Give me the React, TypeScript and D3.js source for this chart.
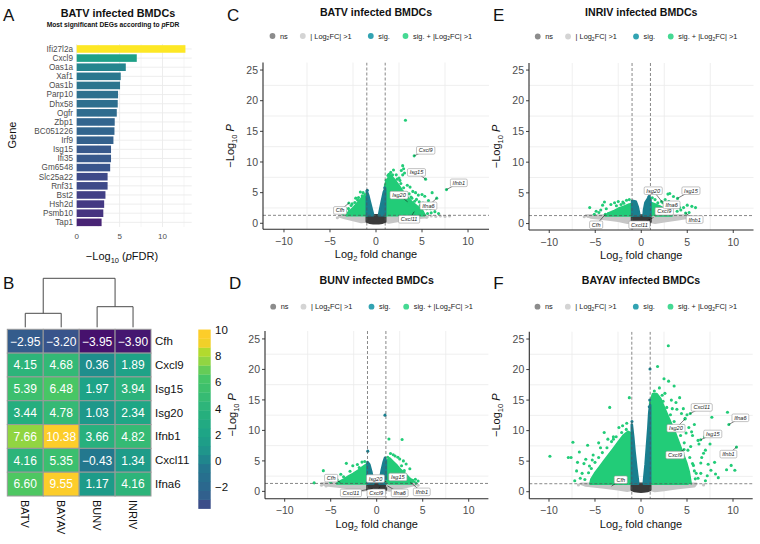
import React from 'react';
import * as d3 from 'd3';

type Pt = [number, number];
type Cat = 'fc' | 'ns' | 'sig' | 'sigfc';

const FONT = '"Liberation Sans", Arial, Helvetica, sans-serif';

// ---------- Panel A data ----------
const deGenes = ['Ifi27l2a', 'Cxcl9', 'Oas1a', 'Xaf1', 'Oas1b', 'Parp10', 'Dhx58', 'Ogfr', 'Zbp1', 'BC051226', 'Irf9', 'Isg15', 'Ifi35', 'Gm6548', 'Slc25a22', 'Rnf31', 'Bst2', 'Hsh2d', 'Psmb10', 'Tap1'];
const deNegLogFdr = [12.67, 7.0, 5.72, 5.13, 5.05, 4.82, 4.78, 4.67, 4.43, 4.4, 4.28, 4.0, 4.0, 3.9, 3.6, 3.6, 3.35, 3.2, 3.1, 2.9];
const barTicks = [0, 5, 10];
const barGrid = [0, 2.5, 5, 7.5, 10, 12.5];

// ---------- Panel B data ----------
const heatGenes = ['Cfh', 'Cxcl9', 'Isg15', 'Isg20', 'Ifnb1', 'Cxcl11', 'Ifna6'];
const heatViruses = ['BATV', 'BAYAV', 'BUNV', 'INRIV'];
const log2fcBATV = [-2.95, 4.15, 5.39, 3.44, 7.66, 4.16, 6.6];
const log2fcBAYAV = [-3.2, 4.68, 6.48, 4.78, 10.38, 5.35, 9.55];
const log2fcBUNV = [-3.95, 0.36, 1.97, 1.03, 3.66, -0.43, 1.17];
const log2fcINRIV = [-3.9, 1.89, 3.94, 2.34, 4.82, 1.34, 4.16];
const colorbarTicks = [-2, 0, 2, 4, 6, 8, 10];
const dendroHeights = [14, 20.6, 49]; // BATV-BAYAV, BUNV-INRIV, root

// ---------- Volcano data ----------
const volcanoXTicks = [-10, -5, 0, 5, 10];
const volcanoYTicks = [0, 5, 10, 15, 20, 25];
const volcanoXMinor = [-7.5, -2.5, 2.5, 7.5];
const volcanoYMinor = [2.5, 7.5, 12.5, 17.5, 22.5];
const fcCutoff = 1;
const pCutoff = -Math.log10(0.05);

// -log10 P of the labelled genes (heatGenes order)
const batvNegLogP = [3.3, 11.0, 7.2, 3.5, 5.5, 1.9, 4.1];
const bunvNegLogP = [1.5, 0.8, 1.7, 1.6, 1.5, 0.5, 0.9];
const inrivNegLogP = [1.5, 2.3, 4.1, 3.4, 1.7, 1.0, 2.6];
const bayavNegLogP = [0.9, 6.9, 8.5, 11.9, 7.3, 12.8, 11.0];

// dense point clouds (outline of each cloud, in log2FC / -log10P units)
const nsCore: Pt[] = [[-1, 1.3], [1, 1.3], [1, 0.3], [0.7, 0.1], [0.3, 0.02], [0, 0], [-0.3, 0.02], [-0.7, 0.1], [-1, 0.3]];

const batvClouds: { cat: Cat; pts: Pt[] }[] = [
  { cat: 'fc', pts: [[-1, 0.3], [-1, 1.3], [-3.3, 1.3], [-4.0, 1.15], [-3.4, 0.85], [-2.5, 0.55], [-1.6, 0.2]] },
  { cat: 'fc', pts: [[1, 0.3], [1, 1.3], [5.2, 1.3], [5.6, 1.05], [4.5, 0.85], [3, 0.55], [2, 0.3], [1.4, 0.12]] },
  { cat: 'ns', pts: nsCore },
  { cat: 'sigfc', pts: [[-1, 1.3], [-1, 4.7], [-1.3, 4.4], [-1.6, 4.0], [-2.0, 3.3], [-2.4, 2.6], [-2.8, 2.0], [-3.1, 1.6], [-3.2, 1.3]] },
  { cat: 'sigfc', pts: [[1, 1.3], [1, 6.3], [1.3, 7.3], [1.6, 7.8], [2.0, 7.1], [2.4, 6.3], [2.8, 5.4], [3.2, 4.6], [3.6, 3.9], [4.0, 3.3], [4.5, 2.7], [5.0, 2.1], [5.3, 1.3]] },
  { cat: 'sig', pts: [[-1, 1.3], [-1, 5.2], [-0.85, 4.6], [-0.65, 3.4], [-0.45, 2.2], [-0.3, 1.3]] },
  { cat: 'sig', pts: [[1, 1.3], [1, 5.6], [0.85, 5.1], [0.65, 3.7], [0.45, 2.3], [0.32, 1.3]] },
];
const batvScatter: Pt[] = [
  [3.2, 16.8], [2.9, 9.4], [3.0, 8.9], [2.75, 8.6], [3.1, 8.2], [2.9, 7.9], [1.9, 8.7], [1.6, 8.3], [2.2, 7.9], [2.5, 7.4], [2.6, 7.0], [3.4, 6.2], [3.7, 5.9], [4.0, 5.2], [4.3, 5.0], [4.6, 4.6], [5.0, 4.7], [5.3, 4.4], [5.7, 3.7], [6.1, 5.0], [6.2, 3.2], [5.1, 3.3], [4.8, 2.9], [5.9, 2.4], [6.4, 1.9], [6.8, 1.6], [4.4, 3.9], [3.8, 4.3], [1.3, 7.8], [1.1, 7.0],
  [1.4, 8.0], [1.8, 7.9], [2.3, 7.2], [2.7, 6.5], [3.0, 5.8], [3.3, 5.0], [3.6, 4.8], [3.9, 4.1], [4.2, 3.6], [4.7, 3.5], [5.2, 2.8], [5.5, 2.4], [6.0, 1.7], [4.9, 2.2], [3.5, 3.0], [5.6, 1.6],
  [-1.7, 5.1], [-1.4, 5.0], [-1.2, 4.7], [-2.2, 4.1], [-2.6, 3.2], [-3.0, 2.4], [-3.3, 1.9], [-3.6, 1.5], [-2.0, 3.8],
  [-1.5, 4.5], [-1.9, 4.2], [-2.3, 3.4], [-2.7, 2.9], [-2.9, 2.0], [-3.5, 1.8], [-3.1, 1.4],
  [6.0, 1.2], [6.5, 1.1], [7.0, 1.2], [7.5, 1.1], [8.0, 1.2], [-3.8, 1.1], [-4.2, 0.9], [5.5, 1.0],
  [-0.95, 5.4], [0.95, 5.8],
];

const bunvClouds: { cat: Cat; pts: Pt[] }[] = [
  { cat: 'fc', pts: [[-1, 0.3], [-1, 1.3], [-4, 1.3], [-6, 1.3], [-5.5, 1.0], [-4, 0.75], [-2.5, 0.45], [-1.5, 0.15]] },
  { cat: 'fc', pts: [[1, 0.3], [1, 1.3], [3.6, 1.3], [4.2, 1.1], [3, 0.7], [2, 0.4], [1.4, 0.15]] },
  { cat: 'ns', pts: nsCore },
  { cat: 'sigfc', pts: [[-1, 1.3], [-1, 4.5], [-1.5, 4.0], [-2.0, 3.4], [-2.5, 2.9], [-3.0, 2.5], [-3.5, 2.0], [-4.0, 1.6], [-4.3, 1.3]] },
  { cat: 'sigfc', pts: [[1, 1.3], [1, 4.8], [1.4, 5.4], [1.8, 4.8], [2.2, 4.2], [2.6, 3.5], [3.0, 3.0], [3.5, 2.2], [4.0, 1.6], [4.3, 1.3]] },
  { cat: 'sig', pts: [[-1, 1.3], [-1, 4.8], [-0.8, 4.4], [-0.6, 3.3], [-0.45, 2.2], [-0.35, 1.3]] },
  { cat: 'sig', pts: [[0.3, 1.3], [0.4, 2.2], [0.55, 3.5], [0.75, 4.8], [0.9, 5.5], [1, 5.0], [1, 1.3]] },
];
const bunvScatter: Pt[] = [
  [0.9, 12.5], [-0.97, 6.6],
  [1.33, 8.6], [2.76, 8.5], [1.5, 6.2], [2.0, 5.8], [2.3, 5.6], [2.5, 5.3], [2.9, 5.0], [1.8, 6.0], [3.2, 4.5], [3.6, 3.7], [4.2, 2.0], [3.9, 1.8], [4.5, 1.7], [2.7, 4.2], [3.0, 3.4], [1.2, 5.6],
  [-6.8, 1.4], [-5.8, 3.4], [-3.3, 4.6], [-1.6, 4.8], [-2.6, 4.2], [-4.6, 2.3], [-5.2, 1.9], [-3.9, 2.8], [-4.3, 1.9], [-5.0, 1.5], [-2.1, 4.4], [-1.3, 4.9],
  [-2.9, 3.3], [-3.6, 2.4], [-4.8, 1.8], [-1.9, 3.9],
  [-6.0, 1.0], [-5.5, 0.9], [4.5, 1.0], [4.0, 1.2],
];

const inrivClouds: { cat: Cat; pts: Pt[] }[] = [
  { cat: 'fc', pts: [[-1, 0.3], [-1, 1.3], [-4, 1.3], [-6, 1.3], [-5.5, 1.0], [-4, 0.75], [-2.5, 0.45], [-1.5, 0.15]] },
  { cat: 'fc', pts: [[1, 0.3], [1, 1.3], [5, 1.3], [5.2, 1.0], [4, 0.7], [2.5, 0.4], [1.5, 0.15]] },
  { cat: 'ns', pts: nsCore },
  { cat: 'sigfc', pts: [[-1, 1.3], [-1, 3.2], [-1.3, 3.1], [-1.8, 2.8], [-2.5, 2.4], [-3.0, 2.0], [-3.5, 1.7], [-3.9, 1.3]] },
  { cat: 'sigfc', pts: [[1, 1.3], [1, 3.4], [1.5, 3.1], [2.0, 2.8], [2.5, 2.4], [3.0, 2.0], [3.3, 1.3]] },
  { cat: 'sig', pts: [[-1, 1.3], [-1, 3.7], [-0.6, 3.6], [-0.4, 2.8], [-0.25, 1.8], [-0.2, 1.3]] },
  { cat: 'sig', pts: [[0.25, 1.3], [0.3, 2.2], [0.45, 3.4], [0.7, 4.0], [0.85, 4.4], [1, 4.0], [1, 1.3]] },
];
const inrivScatter: Pt[] = [
  [-5.6, 2.6], [-4.9, 2.0], [-4.6, 1.8], [-4.2, 3.0], [-4.0, 3.5], [-3.8, 2.4], [-3.3, 3.1], [-2.9, 3.4], [-2.5, 3.6], [-2.0, 3.5], [-1.6, 3.8], [-5.1, 1.5], [-3.6, 1.6], [-1.3, 3.9],
  [-2.7, 2.9], [-2.2, 3.1], [-4.4, 2.2], [-1.9, 3.3],
  [2.9, 4.8], [3.1, 4.9], [3.5, 4.4], [2.6, 3.9], [3.0, 3.6], [3.6, 3.4], [4.0, 2.9], [4.6, 2.6], [5.0, 3.0], [5.5, 2.8], [5.9, 2.6], [4.3, 2.2], [5.2, 1.8], [1.5, 3.9], [2.2, 3.6], [1.2, 4.2],
  [2.6, 3.0], [3.4, 2.6], [3.9, 2.0], [1.8, 3.4],
  [5.5, 1.1], [6.0, 0.9], [-6.2, 1.1], [-5.8, 1.2],
  [0.85, 4.4],
];

const bayavClouds: { cat: Cat; pts: Pt[] }[] = [
  { cat: 'fc', pts: [[-1, 0.3], [-1, 1.3], [-6.5, 1.3], [-6.0, 1.0], [-4, 0.7], [-2.5, 0.4], [-1.5, 0.15]] },
  { cat: 'fc', pts: [[1, 0.3], [1, 1.3], [6, 1.3], [5.8, 0.9], [4, 0.6], [2.5, 0.3], [1.5, 0.12]] },
  { cat: 'ns', pts: nsCore },
  { cat: 'sigfc', pts: [[-1, 1.3], [-1, 9.5], [-1.4, 9.8], [-1.9, 9.2], [-2.5, 8.0], [-3.0, 7.0], [-3.5, 6.0], [-4.0, 5.0], [-4.5, 4.0], [-5.0, 3.0], [-5.4, 2.0], [-5.5, 1.3]] },
  { cat: 'sigfc', pts: [[1, 1.3], [1, 14.5], [1.3, 16.0], [1.7, 16.0], [2.1, 15.2], [2.5, 13.8], [2.9, 12.4], [3.3, 11.0], [3.7, 9.6], [4.1, 8.0], [4.5, 6.4], [4.9, 4.8], [5.2, 3.2], [5.4, 1.3]] },
  { cat: 'sig', pts: [[-1, 1.3], [-1, 11], [-0.85, 9], [-0.7, 6.5], [-0.5, 3.8], [-0.35, 2.0], [-0.3, 1.3]] },
  { cat: 'sig', pts: [[0.3, 1.3], [0.35, 2.2], [0.5, 4.5], [0.65, 7.5], [0.8, 10.5], [0.9, 13], [1, 14.2], [1, 1.3]] },
];
const bayavScatter: Pt[] = [
  [2.97, 23.9], [1.8, 20.5], [2.5, 18.5], [3.0, 18.1], [3.6, 17.3], [1.45, 16.5], [2.6, 16.1], [4.2, 15.4], [-1.27, 15.4], [-3.4, 13.8], [2.0, 17.0], [2.3, 15.8], [3.3, 15.0], [3.8, 14.6], [4.6, 13.6], [5.0, 12.6],
  [-9.9, 5.8], [-7.9, 5.6], [-7.6, 5.6], [-7.4, 8.1], [-7.0, 3.4], [-6.7, 6.5], [-5.8, 7.6], [-4.0, 9.7], [-1.55, 11.2], [-2.4, 10.5], [-6.4, 3.0], [-6.2, 4.6], [-5.2, 6.0], [-3.0, 9.0],
  [9.4, 13.0], [7.7, 12.2], [9.3, 3.6], [10.2, 3.5], [9.8, 4.3], [8.4, 2.3], [5.7, 4.3], [6.0, 3.0], [6.6, 5.6], [7.0, 6.8], [7.3, 4.5], [6.3, 7.8], [5.5, 9.8], [6.9, 9.0], [7.2, 2.6], [8.0, 4.8], [5.8, 11.0], [7.5, 7.8],
  [5.2, 10.5], [5.6, 9.2], [6.2, 8.4], [4.8, 12.0], [4.4, 12.8], [3.9, 13.5], [6.8, 6.3], [6.5, 4.7], [7.6, 3.5], [8.1, 2.9], [7.0, 1.8], [5.9, 2.1],
  [2.4, 14.8], [2.8, 13.8], [3.2, 12.6], [3.6, 11.5], [4.0, 10.2], [4.3, 9.2], [4.7, 8.0], [5.1, 6.8], [5.3, 5.6], [5.6, 4.6], [5.8, 3.4], [6.2, 2.2], [5.4, 7.4], [4.9, 9.6], [4.6, 10.8], [3.4, 13.6], [6.5, 3.0],
  [-6.0, 5.3], [-5.6, 4.2], [-6.6, 2.2], [-4.6, 8.0], [-3.6, 8.6], [-2.0, 10.8], [-7.2, 1.8], [-6.9, 4.8],
  [-1.6, 10.2], [-2.1, 9.7], [-2.7, 9.0], [-3.2, 8.2], [-3.7, 7.2], [-4.2, 6.4], [-4.6, 5.6], [-5.0, 4.8], [-5.4, 3.8], [-5.7, 3.1], [-6.1, 2.0], [-4.4, 7.2], [-3.0, 8.6], [-5.3, 5.2],
  [0.98, 20.1], [0.9, 13.9], [0.95, 15.0], [-0.98, 11.5],
  [5.3, 1.0], [6.8, 1.1], [-6.8, 1.1],
];

// ---------- styles / layout ----------
const PT_COL: Record<Cat, string> = { ns: '#3a3a3a', fc: '#c6c6c6', sig: '#1a7f8f', sigfc: '#22cc78' };
const LEG_COL: Record<Cat, string> = { ns: '#8c8c8c', fc: '#d4d4d4', sig: '#32a3b2', sigfc: '#45d993' };

const heatColor = d3.scaleLinear<string>()
  .domain([-3.95, -3.6, -3.1, -2, -0.4, 0.4, 1.2, 2.2, 3.4, 4.4, 5.4, 6.5, 7.7, 8.7, 9.1, 10.5])
  .range(['#46116d', '#423d85', '#355a8c', '#2b688e', '#23788e', '#1f8f8c', '#1e9b89', '#1ea586', '#25ae7e', '#30b679', '#3cbf6e', '#48c665', '#94d640', '#c3dc24', '#fccd2a', '#fccd2a'])
  .clamp(true);

let _ctx: CanvasRenderingContext2D | null = null;
function textW(t: string, font: string) {
  if (!_ctx) _ctx = document.createElement('canvas').getContext('2d');
  if (!_ctx) return t.length * 3.5;
  _ctx.font = font;
  return _ctx.measureText(t).width;
}

function cat(x: number, y: number): Cat {
  if (y < pCutoff) return Math.abs(x) < fcCutoff ? 'ns' : 'fc';
  return Math.abs(x) < fcCutoff ? 'sig' : 'sigfc';
}

interface VSpec {
  letter: string; title: string;
  left: number; right: number; top: number; bottom: number;
  xDom: [number, number]; yDom: [number, number];
  titleY: number; legendY: number;
  clouds: { cat: Cat; pts: Pt[] }[]; scatter: Pt[];
  fc: number[]; p: number[];
  labelAt: Pt[];
}

function Volcano({ s }: { s: VSpec }) {
  const x = d3.scaleLinear().domain(s.xDom).range([s.left, s.right]);
  const y = d3.scaleLinear().domain(s.yDom).range([s.bottom, s.top]);
  const line = d3.line<Pt>().x(d => x(d[0])).y(d => y(d[1])).curve(d3.curveLinearClosed);
  const cx = (s.left + s.right) / 2;
  const cy = (s.top + s.bottom) / 2;
  const clip = 'clip' + s.letter;
  const order: Cat[] = ['fc', 'ns', 'sigfc', 'sig'];
  const clouds = [...s.clouds].sort((a, b) => order.indexOf(a.cat) - order.indexOf(b.cat));
  const lblFont = 'italic 5.6px "Liberation Sans"';
  const legend: { c: Cat; dx: number }[] = [
    { c: 'ns', dx: -103.5 }, { c: 'fc', dx: -73.2 }, { c: 'sig', dx: -5.2 }, { c: 'sigfc', dx: 29.5 },
  ];
  return (
    <g fontFamily={FONT}>
      <defs>
        <clipPath id={clip}><rect x={s.left} y={s.top} width={s.right - s.left} height={s.bottom - s.top} /></clipPath>
      </defs>
      {volcanoXMinor.map(v => <line key={'gx' + v} x1={x(v)} x2={x(v)} y1={s.top} y2={s.bottom} stroke="#ebebeb" strokeWidth={0.8} />)}
      {volcanoYMinor.map(v => <line key={'gy' + v} x1={s.left} x2={s.right} y1={y(v)} y2={y(v)} stroke="#ebebeb" strokeWidth={0.8} />)}
      <g clipPath={`url(#${clip})`}>
        {clouds.map((c, i) => (
          <path key={'c' + i} d={line(c.pts) || ''} fill={PT_COL[c.cat]} stroke={PT_COL[c.cat]} strokeWidth={2.6} strokeLinejoin="round" />
        ))}
        {s.scatter.map((d, i) => <circle key={'s' + i} cx={x(d[0])} cy={y(d[1])} r={1.55} fill={PT_COL[cat(d[0], d[1])]} />)}
        {s.fc.map((f, i) => <circle key={'g' + i} cx={x(f)} cy={y(s.p[i])} r={1.55} fill={PT_COL[cat(f, s.p[i])]} />)}
        <line x1={x(-fcCutoff)} x2={x(-fcCutoff)} y1={s.top} y2={s.bottom} stroke="#555" strokeWidth={0.7} strokeDasharray="3,2" />
        <line x1={x(fcCutoff)} x2={x(fcCutoff)} y1={s.top} y2={s.bottom} stroke="#555" strokeWidth={0.7} strokeDasharray="3,2" />
        <line x1={s.left} x2={s.right} y1={y(pCutoff)} y2={y(pCutoff)} stroke="#555" strokeWidth={0.7} strokeDasharray="3,2" />
      </g>
      {heatGenes.map((g, i) => {
        const px = x(s.fc[i]), py = y(s.p[i]);
        const lx = x(s.labelAt[i][0]), ly = y(s.labelAt[i][1]);
        const w = textW(g, lblFont) + 4.4;
        const h = 7.6;
        return (
          <g key={'l' + g}>
            <line x1={lx} y1={ly} x2={px} y2={py} stroke="#111" strokeWidth={0.55} />
            <rect x={lx - w / 2} y={ly - h / 2} width={w} height={h} rx={1.3} fill="#fff" stroke="#9a9a9a" strokeWidth={0.6} />
            <text x={lx} y={ly + 2} fontSize={5.6} fontStyle="italic" textAnchor="middle" fill="#222">{g}</text>
          </g>
        );
      })}
      {/* axes */}
      <line x1={s.left} x2={s.left} y1={s.top} y2={s.bottom} stroke="#2a2a2a" strokeWidth={1.1} />
      <line x1={s.left} x2={s.right} y1={s.bottom} y2={s.bottom} stroke="#2a2a2a" strokeWidth={1.1} />
      {volcanoYTicks.map(v => (
        <g key={'yt' + v}>
          <line x1={s.left - 3} x2={s.left} y1={y(v)} y2={y(v)} stroke="#2a2a2a" strokeWidth={0.9} />
          <text x={s.left - 5} y={y(v) + 3.7} fontSize={10.5} textAnchor="end" fill="#4d4d4d">{v}</text>
        </g>
      ))}
      {volcanoXTicks.map(v => (
        <g key={'xt' + v}>
          <line x1={x(v)} x2={x(v)} y1={s.bottom} y2={s.bottom + 3} stroke="#2a2a2a" strokeWidth={0.9} />
          <text x={x(v)} y={s.bottom + 15.5} fontSize={10.5} textAnchor="middle" fill="#4d4d4d">{v < 0 ? '\u2212' + Math.abs(v) : v}</text>
        </g>
      ))}
      <text x={cx} y={s.bottom + 29} fontSize={11} textAnchor="middle" fill="#111">
        <tspan>Log</tspan><tspan fontSize={7.5} dy={3}>2</tspan><tspan dy={-3}> fold change</tspan>
      </text>
      <text transform={`translate(${s.left - 29},${cy}) rotate(-90)`} fontSize={11} textAnchor="middle" fill="#111">
        <tspan>{'\u2212Log'}</tspan><tspan fontSize={7.5} dy={3}>10</tspan><tspan dy={-3}> </tspan><tspan fontStyle="italic">P</tspan>
      </text>
      {/* title, legend, letter */}
      <text x={cx} y={s.titleY} fontSize={10.6} fontWeight="bold" textAnchor="middle" fill="#111">{s.title}</text>
      {legend.map(l => (
        <g key={'lg' + l.c}>
          <circle cx={cx + l.dx} cy={s.legendY} r={2.9} fill={LEG_COL[l.c]} />
          <text x={cx + l.dx + 7.5} y={s.legendY + 2.6} fontSize={7.4} fill="#222">
            {l.c === 'ns' && 'ns'}
            {l.c === 'fc' && <><tspan>| Log</tspan><tspan fontSize={5} dy={1.8}>2</tspan><tspan dy={-1.8}>FC| &gt;1</tspan></>}
            {l.c === 'sig' && 'sig.'}
            {l.c === 'sigfc' && <><tspan>sig. + |Log</tspan><tspan fontSize={5} dy={1.8}>2</tspan><tspan dy={-1.8}>FC| &gt;1</tspan></>}
          </text>
        </g>
      ))}
      <text x={s.left - 36} y={s.titleY + 5} fontSize={17} fill="#111">{s.letter}</text>
    </g>
  );
}

function BarPanel() {
  const x = d3.scaleLinear().domain([0, 13.4]).range([76.7, 191.7]);
  const yb = d3.scaleBand<string>().domain(deGenes).range([44.4, 226.9]).paddingInner(0.17).paddingOuter(0.085);
  const vmin = d3.min(deNegLogFdr)!, vmax = d3.max(deNegLogFdr)!;
  const col = (v: number) => d3.interpolateViridis(0.1 + 0.9 * Math.pow((v - vmin) / (vmax - vmin), 0.75));
  return (
    <g fontFamily={FONT}>
      <text x={3} y={21} fontSize={17} fill="#111">A</text>
      <text x={118} y={17} fontSize={10.8} fontWeight="bold" textAnchor="middle" fill="#111">BATV infected BMDCs</text>
      <text x={113} y={26.8} fontSize={6.7} fontWeight="bold" textAnchor="middle" fill="#111">
        Most significant DEGs according to <tspan fontStyle="italic">p</tspan>FDR
      </text>
      {barGrid.map(v => <line key={v} x1={x(v)} x2={x(v)} y1={44} y2={227} stroke="#ebebeb" strokeWidth={v % 5 === 0 ? 0.9 : 0.5} />)}
      {deGenes.map(g => <line key={'h' + g} x1={x(0)} x2={191.7} y1={yb(g)! + yb.bandwidth() / 2} y2={yb(g)! + yb.bandwidth() / 2} stroke="#ebebeb" strokeWidth={0.9} />)}
      {deGenes.map((g, i) => (
        <rect key={'b' + g} x={x(0)} y={yb(g)} width={x(deNegLogFdr[i]) - x(0)} height={yb.bandwidth()} fill={col(deNegLogFdr[i])} />
      ))}
      {deGenes.map(g => (
        <text key={'t' + g} x={73} y={yb(g)! + yb.bandwidth() / 2 + 2.9} fontSize={8.2} textAnchor="end" fill="#4d4d4d">{g}</text>
      ))}
      {barTicks.map(v => <text key={'xt' + v} x={x(v)} y={239} fontSize={8} textAnchor="middle" fill="#4d4d4d">{v}</text>)}
      <text x={122} y={260} fontSize={11} textAnchor="middle" fill="#111">
        <tspan>{'\u2212Log'}</tspan><tspan fontSize={7.5} dy={3}>10</tspan><tspan dy={-3}> (</tspan><tspan fontStyle="italic">p</tspan><tspan>FDR)</tspan>
      </text>
      <text transform="translate(16,135) rotate(-90)" fontSize={11} textAnchor="middle" fill="#111">Gene</text>
    </g>
  );
}

function HeatPanel() {
  const cols = [log2fcBATV, log2fcBAYAV, log2fcBUNV, log2fcINRIV];
  const xb = d3.scaleBand<string>().domain(heatViruses).range([7.3, 151]);
  const yb = d3.scaleBand<string>().domain(heatGenes).range([329.3, 496]);
  const cxs = heatViruses.map(v => xb(v)! + xb.bandwidth() / 2);
  const hScale = d3.scaleLinear().domain([0, dendroHeights[2]]).range([327.3, 278.3]);
  const m1 = (cxs[0] + cxs[1]) / 2, m2 = (cxs[2] + cxs[3]) / 2;
  const h1 = hScale(dendroHeights[0]), h2 = hScale(dendroHeights[1]), h3 = hScale(dendroHeights[2]);
  const leaf = hScale(0);
  const cb = d3.scaleLinear().domain([0, 10]).range([460.7, 330.2]);
  const cbTop = 10.05, cbBot = -3.67;
  const nBins = 20;
  const step = (cbTop - cbBot) / nBins;
  const bins = d3.range(nBins).map(i => cbBot + i * step);
  return (
    <g fontFamily={FONT}>
      <text x={3} y={288.5} fontSize={17} fill="#111">B</text>
      <g stroke="#4a4a4a" strokeWidth={1} fill="none">
        <path d={`M${cxs[0]},${leaf}V${h1}H${cxs[1]}V${leaf}`} />
        <path d={`M${cxs[2]},${leaf}V${h2}H${cxs[3]}V${leaf}`} />
        <path d={`M${m1},${h1}V${h3}H${m2}V${h2}`} />
      </g>
      {heatGenes.map((g, r) => heatViruses.map((v, c) => (
        <g key={g + v}>
          <rect x={xb(v)} y={yb(g)} width={xb.bandwidth()} height={yb.bandwidth()} fill={heatColor(cols[c][r])} stroke="#9a9a9a" strokeWidth={1} />
          <text x={cxs[c]} y={yb(g)! + yb.bandwidth() / 2 + 4.3} fontSize={12} textAnchor="middle" fill="#fff">
            {(cols[c][r] < 0 ? '\u2212' : '') + Math.abs(cols[c][r]).toFixed(2)}
          </text>
        </g>
      )))}
      {heatGenes.map(g => <text key={'r' + g} x={155} y={yb(g)! + yb.bandwidth() / 2 + 4} fontSize={11.5} fill="#111">{g}</text>)}
      {heatViruses.map((v, c) => (
        <text key={'cl' + v} transform={`translate(${cxs[c] - 4},500) rotate(90)`} fontSize={11} fill="#111">{v}</text>
      ))}
      {bins.map((b, i) => (
        <rect key={'cb' + i} x={198.3} width={12.4} y={cb(b + step)} height={cb(b) - cb(b + step) + 0.3} fill={heatColor(b + step / 2)} />
      ))}
      {colorbarTicks.map(t => <text key={'ct' + t} x={215} y={cb(t) + 4} fontSize={11.5} fill="#111">{t < 0 ? '\u2212' + Math.abs(t) : t}</text>)}
    </g>
  );
}

const panelC: VSpec = {
  letter: 'C', title: 'BATV infected BMDCs', left: 263, right: 489, top: 62.5, bottom: 229.3,
  xDom: [-12.28, 12.28], yDom: [-0.98, 26.23], titleY: 15.5, legendY: 36,
  clouds: batvClouds, scatter: batvScatter, fc: log2fcBATV, p: batvNegLogP,
  labelAt: [[-3.9, 2.1], [5.4, 11.9], [4.4, 8.3], [2.5, 4.6], [9.0, 6.6], [3.6, 0.65], [5.7, 2.85]],
};
const panelD: VSpec = {
  letter: 'D', title: 'BUNV infected BMDCs', left: 265, right: 488.4, top: 331, bottom: 498.7,
  xDom: [-12.14, 12.14], yDom: [-1.2, 26.3], titleY: 284, legendY: 306.7,
  clouds: bunvClouds, scatter: bunvScatter, fc: log2fcBUNV, p: bunvNegLogP,
  labelAt: [[-4.95, 2.17], [-0.05, -0.25], [2.3, 2.37], [-0.13, 2.1], [4.9, -0.08], [-2.8, -0.25], [2.5, -0.25]],
};
const panelE: VSpec = {
  letter: 'E', title: 'INRIV infected BMDCs', left: 529, right: 753.5, top: 63, bottom: 230,
  xDom: [-12.2, 12.2], yDom: [-1.05, 26.15], titleY: 15.5, legendY: 36.5,
  clouds: inrivClouds, scatter: inrivScatter, fc: log2fcINRIV, p: inrivNegLogP,
  labelAt: [[-4.9, -0.2], [2.5, 2.0], [5.4, 5.35], [1.3, 5.35], [5.8, 0.65], [-0.2, -0.2], [3.3, 3.05]],
};
const panelF: VSpec = {
  letter: 'F', title: 'BAYAV infected BMDCs', left: 529.3, right: 752.7, top: 331.7, bottom: 498.7,
  xDom: [-12.14, 12.14], yDom: [-1.15, 26.2], titleY: 284, legendY: 306.7,
  clouds: bayavClouds, scatter: bayavScatter, fc: log2fcBAYAV, p: bayavNegLogP,
  labelAt: [[-2.2, 1.95], [3.7, 6.0], [7.8, 9.45], [3.8, 10.4], [9.5, 6.15], [6.6, 13.8], [10.8, 12.1]],
};

export default function App() {
  return (
    <svg width={760} height={544} viewBox="0 0 760 544" style={{ position: 'absolute', left: 0, top: 0, background: '#fff' }}>
      <rect width={760} height={544} fill="#fff" />
      <BarPanel />
      <HeatPanel />
      <Volcano s={panelC} />
      <Volcano s={panelD} />
      <Volcano s={panelE} />
      <Volcano s={panelF} />
    </svg>
  );
}
